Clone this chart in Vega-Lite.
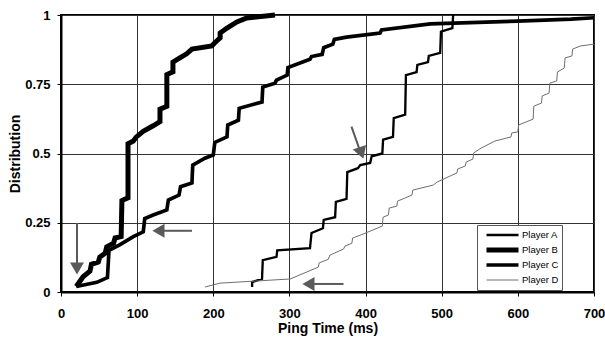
{
  "$schema": "https://vega.github.io/schema/vega-lite/v6.json",
  "width": 533,
  "height": 277,
  "autosize": {"type": "none"},
  "padding": {"left": 61, "top": 15, "right": 11, "bottom": 47},
  "background": "white",
  "config": {
    "view": {"stroke": "#000", "strokeWidth": 2},
    "font": "Liberation Sans",
    "axis": {
      "grid": true, "gridColor": "#333", "gridWidth": 1, "gridOpacity": 1,
      "domainColor": "#000", "domainWidth": 2,
      "tickColor": "#000", "tickSize": 4, "tickWidth": 1,
      "labelFont": "Liberation Sans", "labelFontWeight": "bold", "labelFontSize": 13, "labelColor": "#000",
      "titleFont": "Liberation Sans", "titleFontWeight": "bold", "titleFontSize": 14, "titleColor": "#000",
      "labelFlush": false, "labelOverlap": false
    },
    "legend": {
      "orient": "none", "legendX": 416, "legendY": 210,
      "symbolType": "M0,0L8,0", "symbolSize": 64,
      "labelFont": "Liberation Sans", "labelFontSize": 9.5, "labelColor": "#000",
      "labelOffset": 29, "padding": 3, "rowPadding": 1, "clipHeight": 14,
      "fillColor": "white", "strokeColor": "#555"
    }
  },
  "layer": [
    {
      "data": {"values": [
        {"p":"Player A","i":1,"x":251,"y":0.018},{"p":"Player A","i":2,"x":251,"y":0.036},{"p":"Player A","i":3,"x":264,"y":0.047},{"p":"Player A","i":4,"x":265,"y":0.115},{"p":"Player A","i":5,"x":283,"y":0.127},{"p":"Player A","i":6,"x":284,"y":0.15},{"p":"Player A","i":7,"x":327,"y":0.158},{"p":"Player A","i":8,"x":329,"y":0.213},{"p":"Player A","i":9,"x":344,"y":0.23},{"p":"Player A","i":10,"x":345,"y":0.26},{"p":"Player A","i":11,"x":360,"y":0.27},{"p":"Player A","i":12,"x":361,"y":0.325},{"p":"Player A","i":13,"x":375,"y":0.336},{"p":"Player A","i":14,"x":376,"y":0.433},{"p":"Player A","i":15,"x":390,"y":0.447},{"p":"Player A","i":16,"x":393,"y":0.458},{"p":"Player A","i":17,"x":406,"y":0.466},{"p":"Player A","i":18,"x":408,"y":0.49},{"p":"Player A","i":19,"x":422,"y":0.5},{"p":"Player A","i":20,"x":423,"y":0.55},{"p":"Player A","i":21,"x":436,"y":0.56},{"p":"Player A","i":22,"x":437,"y":0.628},{"p":"Player A","i":23,"x":452,"y":0.64},{"p":"Player A","i":24,"x":453,"y":0.783},{"p":"Player A","i":25,"x":467,"y":0.794},{"p":"Player A","i":26,"x":468,"y":0.82},{"p":"Player A","i":27,"x":482,"y":0.83},{"p":"Player A","i":28,"x":483,"y":0.852},{"p":"Player A","i":29,"x":498,"y":0.863},{"p":"Player A","i":30,"x":499,"y":0.94},{"p":"Player A","i":31,"x":514,"y":0.953},{"p":"Player A","i":32,"x":515,"y":1.0},
        {"p":"Player B","i":1,"x":20,"y":0.02},{"p":"Player B","i":2,"x":29,"y":0.055},{"p":"Player B","i":3,"x":38,"y":0.075},{"p":"Player B","i":4,"x":40,"y":0.1},{"p":"Player B","i":5,"x":49,"y":0.108},{"p":"Player B","i":6,"x":51,"y":0.126},{"p":"Player B","i":7,"x":58,"y":0.14},{"p":"Player B","i":8,"x":60,"y":0.163},{"p":"Player B","i":9,"x":69,"y":0.176},{"p":"Player B","i":10,"x":71,"y":0.195},{"p":"Player B","i":11,"x":79,"y":0.2},{"p":"Player B","i":12,"x":80,"y":0.33},{"p":"Player B","i":13,"x":88,"y":0.34},{"p":"Player B","i":14,"x":88,"y":0.535},{"p":"Player B","i":15,"x":95,"y":0.545},{"p":"Player B","i":16,"x":99,"y":0.56},{"p":"Player B","i":17,"x":108,"y":0.58},{"p":"Player B","i":18,"x":121,"y":0.6},{"p":"Player B","i":19,"x":130,"y":0.615},{"p":"Player B","i":20,"x":130,"y":0.66},{"p":"Player B","i":21,"x":139,"y":0.67},{"p":"Player B","i":22,"x":139,"y":0.785},{"p":"Player B","i":23,"x":147,"y":0.795},{"p":"Player B","i":24,"x":147,"y":0.83},{"p":"Player B","i":25,"x":156,"y":0.845},{"p":"Player B","i":26,"x":165,"y":0.86},{"p":"Player B","i":27,"x":172,"y":0.877},{"p":"Player B","i":28,"x":198,"y":0.888},{"p":"Player B","i":29,"x":202,"y":0.9},{"p":"Player B","i":30,"x":209,"y":0.917},{"p":"Player B","i":31,"x":209,"y":0.935},{"p":"Player B","i":32,"x":218,"y":0.953},{"p":"Player B","i":33,"x":231,"y":0.975},{"p":"Player B","i":34,"x":244,"y":0.989},{"p":"Player B","i":35,"x":281,"y":1.0},
        {"p":"Player C","i":1,"x":20,"y":0.02},{"p":"Player C","i":2,"x":47,"y":0.035},{"p":"Player C","i":3,"x":61,"y":0.052},{"p":"Player C","i":4,"x":63,"y":0.15},{"p":"Player C","i":5,"x":77,"y":0.17},{"p":"Player C","i":6,"x":95,"y":0.2},{"p":"Player C","i":7,"x":108,"y":0.217},{"p":"Player C","i":8,"x":110,"y":0.265},{"p":"Player C","i":9,"x":121,"y":0.278},{"p":"Player C","i":10,"x":139,"y":0.296},{"p":"Player C","i":11,"x":141,"y":0.332},{"p":"Player C","i":12,"x":155,"y":0.35},{"p":"Player C","i":13,"x":157,"y":0.38},{"p":"Player C","i":14,"x":172,"y":0.394},{"p":"Player C","i":15,"x":173,"y":0.458},{"p":"Player C","i":16,"x":189,"y":0.483},{"p":"Player C","i":17,"x":200,"y":0.495},{"p":"Player C","i":18,"x":202,"y":0.54},{"p":"Player C","i":19,"x":218,"y":0.56},{"p":"Player C","i":20,"x":219,"y":0.603},{"p":"Player C","i":21,"x":233,"y":0.62},{"p":"Player C","i":22,"x":234,"y":0.663},{"p":"Player C","i":23,"x":264,"y":0.686},{"p":"Player C","i":24,"x":265,"y":0.74},{"p":"Player C","i":25,"x":281,"y":0.754},{"p":"Player C","i":26,"x":283,"y":0.765},{"p":"Player C","i":27,"x":297,"y":0.783},{"p":"Player C","i":28,"x":298,"y":0.81},{"p":"Player C","i":29,"x":327,"y":0.84},{"p":"Player C","i":30,"x":329,"y":0.85},{"p":"Player C","i":31,"x":343,"y":0.858},{"p":"Player C","i":32,"x":345,"y":0.882},{"p":"Player C","i":33,"x":357,"y":0.895},{"p":"Player C","i":34,"x":359,"y":0.912},{"p":"Player C","i":35,"x":375,"y":0.92},{"p":"Player C","i":36,"x":419,"y":0.935},{"p":"Player C","i":37,"x":421,"y":0.946},{"p":"Player C","i":38,"x":485,"y":0.968},{"p":"Player C","i":39,"x":600,"y":0.978},{"p":"Player C","i":40,"x":670,"y":0.985},{"p":"Player C","i":41,"x":700,"y":0.99},
        {"p":"Player D","i":1,"x":189,"y":0.018},{"p":"Player D","i":2,"x":209,"y":0.032},{"p":"Player D","i":3,"x":301,"y":0.047},{"p":"Player D","i":4,"x":338,"y":0.09},{"p":"Player D","i":5,"x":339,"y":0.105},{"p":"Player D","i":6,"x":351,"y":0.118},{"p":"Player D","i":7,"x":353,"y":0.133},{"p":"Player D","i":8,"x":371,"y":0.155},{"p":"Player D","i":9,"x":373,"y":0.166},{"p":"Player D","i":10,"x":382,"y":0.176},{"p":"Player D","i":11,"x":383,"y":0.195},{"p":"Player D","i":12,"x":393,"y":0.205},{"p":"Player D","i":13,"x":422,"y":0.238},{"p":"Player D","i":14,"x":423,"y":0.27},{"p":"Player D","i":15,"x":430,"y":0.278},{"p":"Player D","i":16,"x":431,"y":0.303},{"p":"Player D","i":17,"x":441,"y":0.31},{"p":"Player D","i":18,"x":442,"y":0.328},{"p":"Player D","i":19,"x":461,"y":0.35},{"p":"Player D","i":20,"x":462,"y":0.368},{"p":"Player D","i":21,"x":489,"y":0.386},{"p":"Player D","i":22,"x":494,"y":0.397},{"p":"Player D","i":23,"x":520,"y":0.43},{"p":"Player D","i":24,"x":521,"y":0.444},{"p":"Player D","i":25,"x":531,"y":0.455},{"p":"Player D","i":26,"x":532,"y":0.469},{"p":"Player D","i":27,"x":541,"y":0.48},{"p":"Player D","i":28,"x":542,"y":0.502},{"p":"Player D","i":29,"x":552,"y":0.52},{"p":"Player D","i":30,"x":570,"y":0.545},{"p":"Player D","i":31,"x":591,"y":0.56},{"p":"Player D","i":32,"x":592,"y":0.574},{"p":"Player D","i":33,"x":600,"y":0.578},{"p":"Player D","i":34,"x":601,"y":0.603},{"p":"Player D","i":35,"x":620,"y":0.624},{"p":"Player D","i":36,"x":621,"y":0.671},{"p":"Player D","i":37,"x":631,"y":0.682},{"p":"Player D","i":38,"x":632,"y":0.708},{"p":"Player D","i":39,"x":641,"y":0.718},{"p":"Player D","i":40,"x":642,"y":0.754},{"p":"Player D","i":41,"x":651,"y":0.762},{"p":"Player D","i":42,"x":652,"y":0.794},{"p":"Player D","i":43,"x":661,"y":0.809},{"p":"Player D","i":44,"x":662,"y":0.845},{"p":"Player D","i":45,"x":671,"y":0.852},{"p":"Player D","i":46,"x":672,"y":0.877},{"p":"Player D","i":47,"x":682,"y":0.888},{"p":"Player D","i":48,"x":700,"y":0.895}
      ]},
      "mark": {"type": "line", "strokeJoin": "miter", "strokeCap": "butt"},
      "encoding": {
        "x": {"field": "x", "type": "quantitative", "scale": {"domain": [0, 700], "nice": false, "zero": false},
              "axis": {"values": [0,100,200,300,400,500,600,700], "title": "Ping Time (ms)", "labelPadding": 11, "titlePadding": 1}},
        "y": {"field": "y", "type": "quantitative", "scale": {"domain": [0, 1], "nice": false},
              "axis": {"values": [0,0.25,0.5,0.75,1], "format": ".2~f", "title": "Distribution", "labelPadding": 7, "titlePadding": 2}},
        "order": {"field": "i", "type": "quantitative"},
        "color": {"field": "p", "type": "nominal",
                  "scale": {"domain": ["Player D","Player A","Player C","Player B"], "range": ["#6e6e6e","#000000","#000000","#000000"]},
                  "legend": {"title": null, "values": ["Player A","Player B","Player C","Player D"]}},
        "strokeWidth": {"field": "p", "type": "ordinal",
                  "scale": {"type": "point", "domain": ["Player D","Player A","Player C","Player B"], "range": [1, 5]},
                  "legend": {"title": null, "values": ["Player A","Player B","Player C","Player D"]}}
      }
    },
    {
      "data": {"values": [
        {"x":21,"y":0.249,"x2":21,"y2":0.1},
        {"x":172,"y":0.221,"x2":133,"y2":0.221},
        {"x":381.5,"y":0.597,"x2":392,"y2":0.515},
        {"x":371,"y":0.029,"x2":330,"y2":0.029}
      ]},
      "mark": {"type": "rule", "color": "#5a5a5a", "strokeWidth": 2},
      "encoding": {
        "x": {"field": "x", "type": "quantitative"},
        "y": {"field": "y", "type": "quantitative"},
        "x2": {"field": "x2"},
        "y2": {"field": "y2"}
      }
    },
    {
      "data": {"values": [
        {"x":21,"y":0.085,"a":180},
        {"x":128,"y":0.221,"a":270},
        {"x":394.5,"y":0.502,"a":161},
        {"x":325,"y":0.029,"a":270}
      ]},
      "mark": {"type": "point", "shape": "triangle-up", "filled": true, "color": "#5a5a5a", "size": 196, "opacity": 1, "strokeWidth": 0},
      "encoding": {
        "x": {"field": "x", "type": "quantitative"},
        "y": {"field": "y", "type": "quantitative"},
        "angle": {"field": "a", "type": "quantitative", "scale": null}
      }
    }
  ]
}
